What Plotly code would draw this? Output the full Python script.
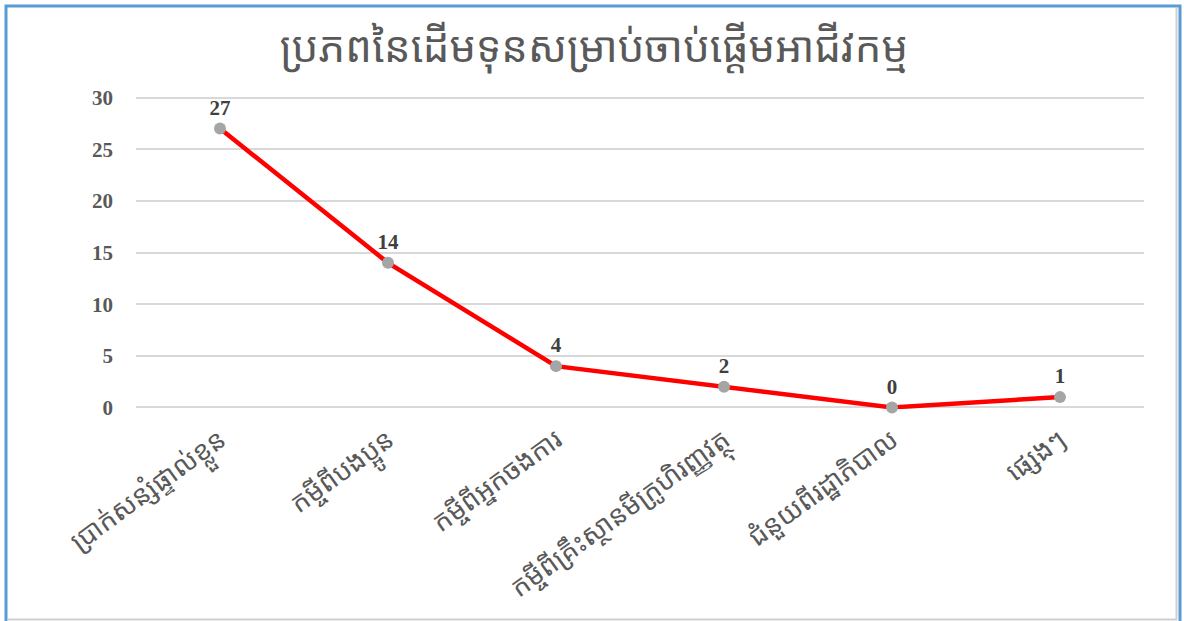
import plotly.graph_objects as go

title_text = "ប្រភពនៃដើមទុនសម្រាប់ចាប់ផ្តើមអាជីវកម្ម"
categories = [
    "ប្រាក់សន្សំផ្ទាល់ខ្លួន",
    "កម្ចីពីបងប្អូន",
    "កម្ចីពីអ្នកចងការ",
    "កម្ចីពីគ្រឹះស្ថានមីក្រូហិរញ្ញវត្ថុ",
    "ជំនួយពីរដ្ឋាភិបាល",
    "ផ្សេងៗ",
]
values = [27, 14, 4, 2, 0, 1]
y_ticks = [0, 5, 10, 15, 20, 25, 30]

W, H = 1184, 621
L, R, T, B = 136, 40, 96, 212
pw, ph = W - L - R, H - T - B

def px_to_paper_x(px):
    return (px - L) / pw

def px_to_paper_y(py):
    return (H - B - py) / ph

khmer_font = "Khmer OS, Noto Sans Khmer, Noto Serif Khmer, Khmer OS System, Noto Sans, sans-serif"
serif_font = "Liberation Serif, Times New Roman, DejaVu Serif, serif"

fig = go.Figure()
fig.add_trace(go.Scatter(
    x=categories,
    y=values,
    mode="lines+markers+text",
    line=dict(color="#FF0000", width=4.5),
    marker=dict(color="#A5A5A5", size=12),
    text=[str(v) for v in values],
    textposition="top center",
    textfont=dict(family=serif_font, size=21, color="#404040", weight="bold"),
    cliponaxis=False,
    showlegend=False,
))

fig.update_layout(
    width=W, height=H,
    margin=dict(l=L, r=R, t=T, b=B),
    paper_bgcolor="white",
    plot_bgcolor="white",
    title=dict(
        text=title_text,
        x=(594 / W), xanchor="center",
        y=1 - 47 / H, yanchor="middle",
        font=dict(family=khmer_font, size=42, color="#595959"),
    ),
    xaxis=dict(
        type="category",
        range=[-0.5, len(categories) - 0.5],
        showgrid=False,
        showline=False,
        zeroline=False,
        ticks="",
        tickangle=-36,
        ticklabelstandoff=9,
        tickfont=dict(family=khmer_font, size=27, color="#595959"),
    ),
    yaxis=dict(
        range=[-0.15, 30.15],
        tickvals=y_ticks,
        showgrid=True,
        gridcolor="#D9D9D9",
        gridwidth=1.5,
        zeroline=False,
        showline=False,
        ticks="",
        ticklabelstandoff=22,
        tickfont=dict(family=serif_font, size=21, color="#595959", weight="bold"),
    ),
    shapes=[
        # outer frame
        dict(type="rect", xref="paper", yref="paper",
             x0=px_to_paper_x(6), x1=px_to_paper_x(1180),
             y0=px_to_paper_y(630), y1=px_to_paper_y(6),
             line=dict(color="#5B9BD5", width=3), fillcolor="rgba(0,0,0,0)",
             layer="above"),
        dict(type="line", xref="paper", yref="paper",
             x0=px_to_paper_x(8), x1=px_to_paper_x(1177),
             y0=px_to_paper_y(619.5), y1=px_to_paper_y(619.5),
             line=dict(color="#D0D0D0", width=2)),
        dict(type="line", xref="paper", yref="paper",
             x0=px_to_paper_x(1176.5), x1=px_to_paper_x(1176.5),
             y0=px_to_paper_y(619.5), y1=px_to_paper_y(8),
             line=dict(color="#D0D0D0", width=2)),
    ],
)

fig.write_html("out.html")
